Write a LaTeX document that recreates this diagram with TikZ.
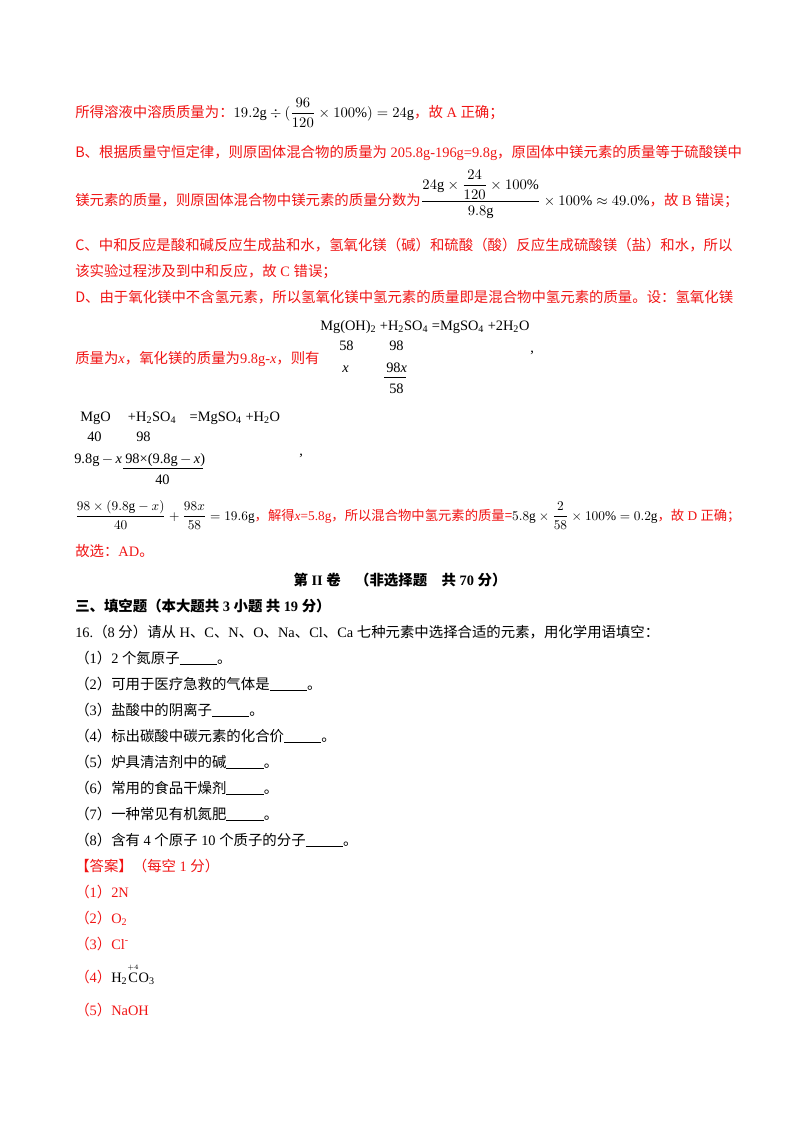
\documentclass[tikz,border=0pt]{standalone}
\usepackage{amsmath}
\usepackage{fontspec}
\setmainfont{Liberation Serif}
\newfontfamily\cjk{Noto Sans CJK SC}
\definecolor{ansred}{RGB}{240,20,20}
\newcommand{\bl}{\rule[-1.5pt]{28pt}{0.7pt}}
\newcommand{\sbs}[1]{\textsubscript{#1}}
\begin{document}
\begin{tikzpicture}[x=0.75pt,y=-0.75pt,
  txt/.style={anchor=base west,inner sep=0pt,font=\fontsize{10.8}{12}\selectfont},
  red/.style={txt,text=ansred},
  blk/.style={txt,text=black}]
\useasboundingbox (0,0) rectangle (800,1132);
\node[red] (l1) at (75,117) {\cjk 所得溶液中溶质质量为：\rmfamily\color{black}$19.2\mathrm{g}\div(\dfrac{96}{120}\times100\%)=24\mathrm{g}$\color{ansred}\cjk ，故\rmfamily\ A\ \cjk 正确；};
\node[red] (l2) at (75,157) {\cjk B、根据质量守恒定律，则原固体混合物的质量为\rmfamily\ 205.8g-196g=9.8g\cjk ，原固体中镁元素的质量等于硫酸镁中};
\node[red] (l3) at (75,205) {\cjk 镁元素的质量，则原固体混合物中镁元素的质量分数为\rmfamily\color{black}$\dfrac{24\mathrm{g}\times\dfrac{24}{120}\times100\%}{9.8\mathrm{g}}\times100\%\approx49.0\%$\color{ansred}\cjk ，故\rmfamily\ B\ \cjk 错误；};
\node[red] (l4) at (75,250) {\cjk C、中和反应是酸和碱反应生成盐和水，氢氧化镁（碱）和硫酸（酸）反应生成硫酸镁（盐）和水，所以};
\node[red] (l5) at (75,276) {\cjk 该实验过程涉及到中和反应，故\rmfamily\ C\ \cjk 错误；};
\node[red] (l6) at (75,302) {\cjk D、由于氧化镁中不含氢元素，所以氢氧化镁中氢元素的质量即是混合物中氢元素的质量。设：氢氧化镁};
% reaction 1
\node[blk] (r1) at (320,330) {Mg(OH)\sbs{2} +H\sbs{2}SO\sbs{4} =MgSO\sbs{4} +2H\sbs{2}O};
\node[blk] (r1a) at (339,350) {58};
\node[blk] (r1b) at (389,350) {98};
\node[blk] (r1c) at (342,372) {\itshape x};
\node[blk] (r1d) at (386,372) {98\itshape x};
\draw[black,line width=0.5pt] (384,377) -- (406,377);
\node[blk] (r1e) at (389,393) {58};
\node[red] (l7) at (75,363) {\cjk 质量为\rmfamily\itshape x\cjk\upshape ，氧化镁的质量为\rmfamily 9.8g-\itshape x\cjk\upshape ，则有};
\node[blk] (c1) at (530,352) {,};
% reaction 2
\node[blk] (r2) at (80,421) {MgO\hspace{13pt}+H\sbs{2}SO\sbs{4}\hspace{10pt}=MgSO\sbs{4} +H\sbs{2}O};
\node[blk] (r2a) at (87,441) {40};
\node[blk] (r2b) at (136,441) {98};
\node[blk] (r2c) at (74,463) {9.8g\,$-$\,\itshape x};
\node[blk] (r2d) at (125,463) {98×(9.8g\,$-$\,\itshape x\upshape )};
\draw[black,line width=0.5pt] (123,468) -- (203,468);
\node[blk] (r2e) at (155,484) {40};
\node[blk] (c2) at (299,455) {,};
\node[red,font=\fontsize{10}{12}\selectfont] (l8) at (75,520) {\rmfamily\color{black}$\dfrac{98\times(9.8\mathrm{g}-x)}{40}+\dfrac{98x}{58}=19.6\mathrm{g}$\color{ansred}\cjk ，解得\rmfamily\itshape x\upshape =5.8g\cjk ，所以混合物中氢元素的质量=\rmfamily\color{black}$5.8\mathrm{g}\times\dfrac{2}{58}\times100\%=0.2\mathrm{g}$\color{ansred}\cjk ，故\rmfamily\ D\ \cjk 正确；};
\node[red] (l9) at (75,556) {\cjk 故选：\rmfamily AD\cjk 。};
\node[blk,anchor=base] (h1) at (400,585) {\cjk\bfseries 第\rmfamily\ II\ \cjk 卷\quad （非选择题\quad 共\rmfamily\ 70\ \cjk 分）};
\node[blk] (h2) at (75,611) {\cjk\bfseries 三、填空题（本大题共\rmfamily\ 3\ \cjk 小题\ 共\rmfamily\ 19\ \cjk 分）};
\node[blk] (q) at (75,637) {\rmfamily 16.\cjk （\rmfamily 8\ \cjk 分）请从\rmfamily\ H\cjk 、\rmfamily C\cjk 、\rmfamily N\cjk 、\rmfamily O\cjk 、\rmfamily Na\cjk 、\rmfamily Cl\cjk 、\rmfamily Ca\ \cjk 七种元素中选择合适的元素，用化学用语填空：};
\node[blk] (q1) at (75,663) {\cjk （\rmfamily 1\cjk ）\rmfamily 2\ \cjk 个氮原子\bl 。};
\node[blk] (q2) at (75,689) {\cjk （\rmfamily 2\cjk ）可用于医疗急救的气体是\bl 。};
\node[blk] (q3) at (75,715) {\cjk （\rmfamily 3\cjk ）盐酸中的阴离子\bl 。};
\node[blk] (q4) at (75,741) {\cjk （\rmfamily 4\cjk ）标出碳酸中碳元素的化合价\bl 。};
\node[blk] (q5) at (75,767) {\cjk （\rmfamily 5\cjk ）炉具清洁剂中的碱\bl 。};
\node[blk] (q6) at (75,793) {\cjk （\rmfamily 6\cjk ）常用的食品干燥剂\bl 。};
\node[blk] (q7) at (75,819) {\cjk （\rmfamily 7\cjk ）一种常见有机氮肥\bl 。};
\node[blk] (q8) at (75,845) {\cjk （\rmfamily 8\cjk ）含有\rmfamily\ 4\ \cjk 个原子\rmfamily\ 10\ \cjk 个质子的分子\bl 。};
\node[red] (a0) at (75,871) {\cjk 【答案】（每空\rmfamily\ 1\ \cjk 分）};
\node[red] (a1) at (75,897) {\cjk （\rmfamily 1\cjk ）\rmfamily 2N};
\node[red] (a2) at (75,923) {\cjk （\rmfamily 2\cjk ）\rmfamily O\sbs{2}};
\node[red] (a3) at (75,949) {\cjk （\rmfamily 3\cjk ）\rmfamily Cl\textsuperscript{-}};
\node[red] (a4) at (75,982) {\cjk （\rmfamily 4\cjk ）\rmfamily\color{black}H\sbs{2}$\overset{\scriptscriptstyle +4}{\mathrm{C}}$O\sbs{3}};
\node[red] (a5) at (75,1015) {\cjk （\rmfamily 5\cjk ）\rmfamily NaOH};
\end{tikzpicture}
\end{document}
